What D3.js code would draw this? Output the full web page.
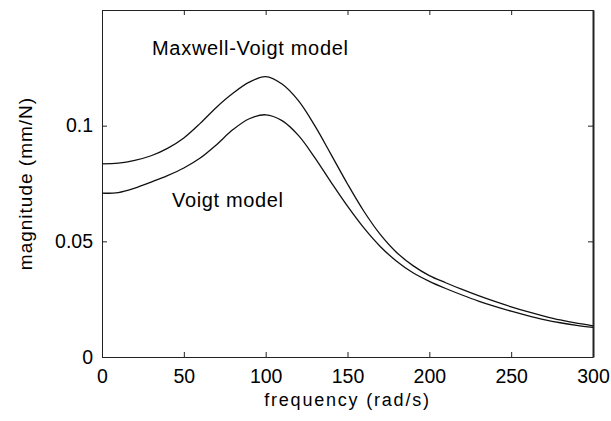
<!DOCTYPE html>
<html>
<head>
<meta charset="utf-8">
<script src="https://cdn.jsdelivr.net/npm/d3@7"></script>
<style>
  body { margin: 0; background: #fff; }
  svg { font-family: "Liberation Sans", Arial, sans-serif; }
  .axis path, .axis line { stroke: #222; }
  .axis text { font-size: 19.5px; fill: #000; }
</style>
</head>
<body>
<div id="chart"></div>
<script>
// frequency samples (rad/s)
const frequency = [0, 10, 20, 30, 40, 50, 60, 70, 80, 90, 100, 110, 120, 130, 140, 150,
  160, 170, 180, 190, 200, 210, 220, 230, 240, 250, 260, 270, 280, 290, 300];

// magnitude (mm/N)
const maxwellVoigt = [0.0835, 0.0838, 0.0850, 0.0870, 0.0902, 0.0947, 0.1010, 0.1080, 0.1140,
  0.1188, 0.1212, 0.1180, 0.1108, 0.1000, 0.0875, 0.0748, 0.0630, 0.0530, 0.0452, 0.0395,
  0.0352, 0.0321, 0.0292, 0.0265, 0.0240, 0.0217, 0.0196, 0.0177, 0.0160, 0.0146, 0.0135];

const voigt = [0.0708, 0.0711, 0.0730, 0.0756, 0.0784, 0.0817, 0.0860, 0.0918, 0.0983,
  0.1030, 0.1047, 0.1022, 0.0958, 0.0862, 0.0755, 0.0652, 0.0558, 0.0478, 0.0414, 0.0364,
  0.0327, 0.0296, 0.0268, 0.0242, 0.0219, 0.0198, 0.0179, 0.0162, 0.0148, 0.0137, 0.0128];

const xTicks = [0, 50, 100, 150, 200, 250, 300];
const yTicks = [0, 0.05, 0.1];

const config = {
  width: 611,
  height: 421,
  margin: { top: 10, right: 18, bottom: 64, left: 102 }
};

const innerW = config.width - config.margin.left - config.margin.right;
const innerH = config.height - config.margin.top - config.margin.bottom;

const svg = d3.select('#chart')
  .append('svg')
    .attr('width', config.width)
    .attr('height', config.height);

const g = svg.append('g')
  .attr('transform', `translate(${config.margin.left}, ${config.margin.top})`);

const xScale = d3.scaleLinear().domain([0, 300]).range([0, innerW]);
const yScale = d3.scaleLinear().domain([0, 0.15]).range([innerH, 0]);

// axes with inward ticks, matlab style
g.append('g')
  .attr('class', 'axis x-axis')
  .attr('transform', `translate(0, ${innerH})`)
  .call(d3.axisBottom(xScale).tickValues(xTicks).tickSize(-5).tickSizeOuter(0)
    .tickPadding(12).tickFormat(d3.format('d')));

g.append('g')
  .attr('class', 'axis')
  .call(d3.axisTop(xScale).tickValues(xTicks).tickSize(-5).tickSizeOuter(0).tickFormat(''))
  .call(a => a.select('.domain').attr('stroke', '#444'));

g.append('g')
  .attr('class', 'axis y-axis')
  .call(d3.axisLeft(yScale).tickValues(yTicks).tickSize(-5).tickSizeOuter(0)
    .tickPadding(9).tickFormat(d => d === 0 ? '0' : String(d)));

g.append('g')
  .attr('class', 'axis')
  .attr('transform', `translate(${innerW}, 0)`)
  .call(d3.axisRight(yScale).tickValues(yTicks).tickSize(-5).tickSizeOuter(0).tickFormat(''))
  .call(a => a.select('.domain').attr('stroke-width', 2));

// curves
const line = d3.line()
  .x(d => xScale(d[0]))
  .y(d => yScale(d[1]))
  .curve(d3.curveCatmullRom.alpha(0.5));

[maxwellVoigt, voigt].forEach(series => {
  g.append('path')
    .datum(frequency.map((f, i) => [f, series[i]]))
    .attr('fill', 'none')
    .attr('stroke', '#111')
    .attr('stroke-width', 1.3)
    .attr('d', line);
});

// annotations
svg.append('text')
  .attr('x', 152)
  .attr('y', 55)
  .attr('font-size', 20)
  .attr('textLength', 196)
  .attr('lengthAdjust', 'spacing')
  .text('Maxwell-Voigt model');

svg.append('text')
  .attr('x', 172)
  .attr('y', 207)
  .attr('font-size', 20)
  .attr('textLength', 111)
  .attr('lengthAdjust', 'spacing')
  .text('Voigt model');

// axis titles
svg.append('text')
  .attr('x', config.margin.left + innerW / 2)
  .attr('y', 406)
  .attr('text-anchor', 'middle')
  .attr('font-size', 18)
  .attr('letter-spacing', 1.8)
  .text('frequency (rad/s)');

svg.append('text')
  .attr('transform', `translate(32, ${config.margin.top + innerH / 2}) rotate(-90)`)
  .attr('text-anchor', 'middle')
  .attr('font-size', 19)
  .attr('letter-spacing', 1)
  .text('magnitude (mm/N)');
</script>
</body>
</html>
